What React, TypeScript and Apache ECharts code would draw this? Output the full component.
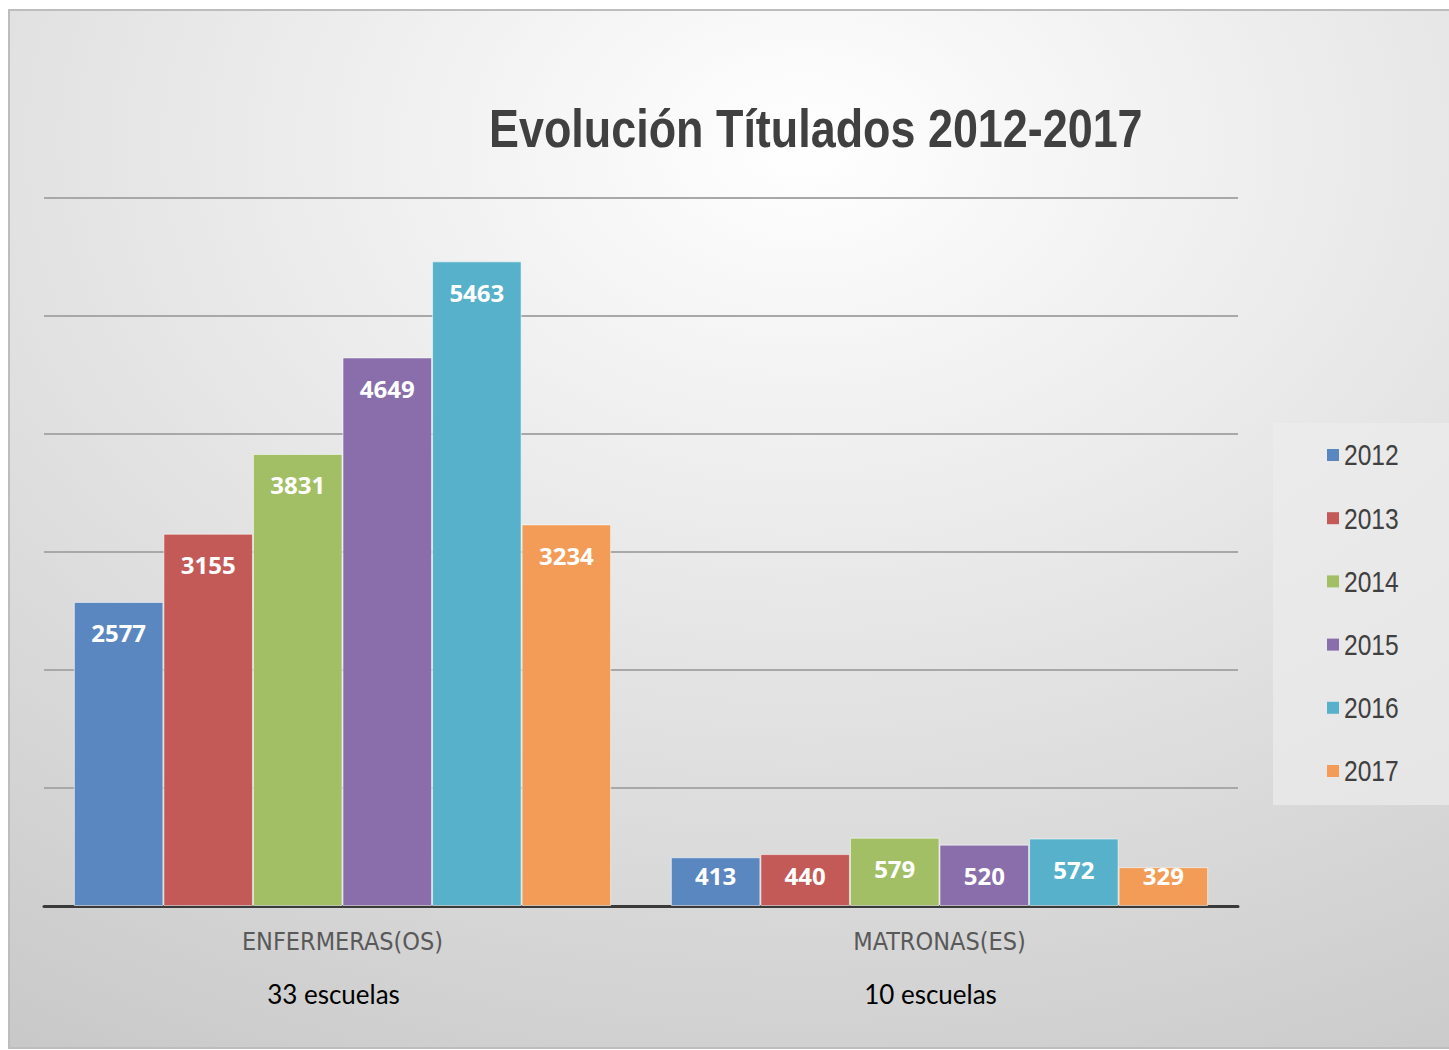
import React, { useEffect, useRef } from "react";
import * as echarts from "echarts";

const categories = ["ENFERMERAS(OS)", "MATRONAS(ES)"];
const schools = ["33 escuelas", "10 escuelas"];
const years = ["2012", "2013", "2014", "2015", "2016", "2017"];
const v2012 = [2577, 413];
const v2013 = [3155, 440];
const v2014 = [3831, 579];
const v2015 = [4649, 520];
const v2016 = [5463, 572];
const v2017 = [3234, 329];
const seriesValues = [v2012, v2013, v2014, v2015, v2016, v2017];
const colors = ["#5b87c1", "#c45a57", "#a2bf66", "#8a6eab", "#58b1ca", "#f39c57"];
const titleText = "Evolución Títulados 2012-2017";

const NARROW = "'DejaVu Sans Condensed', sans-serif";

export default function App() {
  const ref = useRef<HTMLDivElement>(null);
  useEffect(() => {
    if (!ref.current) return;
    const chart = echarts.init(ref.current, null, { renderer: "svg" });
    const series = years.map((y, i) => ({
      name: y,
      type: "bar",
      barGap: "0%",
      barCategoryGap: "10%",
      itemStyle: { color: colors[i], borderColor: "rgba(255,255,255,0.55)", borderWidth: 1 },
      data: seriesValues[i].map((v) => ({
        value: v,
        label:
          v < 540
            ? { position: "insideBottom", distance: 19 }
            : { position: "insideTop", distance: 19 },
      })),
      label: {
        show: true,
        color: "#ffffff",
        fontFamily: "'Open Sans', sans-serif",
        fontWeight: "bold",
        fontSize: 24,
      },
    }));

    const legendItems: any[] = [];
    years.forEach((y, i) => {
      const cy = 455 + i * 63.2;
      legendItems.push({
        type: "rect",
        shape: { x: 1327, y: cy - 6, width: 12, height: 12 },
        style: { fill: colors[i] },
      });
      legendItems.push({
        type: "text",
        x: 1344,
        y: cy,
        scaleX: 0.82,
        style: {
          text: y,
          font: "30px 'Liberation Sans', Arial, sans-serif",
          fill: "#404040",
          textVerticalAlign: "middle",
          textAlign: "left",
        },
      });
    });

    chart.setOption({
      animation: false,
      backgroundColor: "#ffffff",
      graphic: [
        {
          type: "rect",
          z: -10,
          silent: true,
          shape: { x: 9, y: 10, width: 1445, height: 1038 },
          style: {
            fill: new echarts.graphic.RadialGradient(0.55, 0.13, 1.15, [
              { offset: 0, color: "#ffffff" },
              { offset: 1, color: "#c2c2c2" },
            ]),
            stroke: "#bdbdbd",
            lineWidth: 2,
          },
        },
        {
          type: "text",
          x: 489,
          y: 129,
          scaleX: 0.847,
          style: {
            text: titleText,
            font: "bold 53px 'Liberation Sans', Arial, sans-serif",
            fill: "#404040",
            textVerticalAlign: "middle",
            textAlign: "left",
          },
        },
        {
          type: "rect",
          shape: { x: 1273, y: 423, width: 176, height: 382 },
          style: { fill: "rgba(236,236,236,0.7)" },
        },
        ...legendItems,
      ],
      grid: { left: 44, right: 211, top: 198, bottom: 144, containLabel: false },
      xAxis: {
        type: "category",
        data: categories,
        axisLine: { lineStyle: { color: "#3a3a3a", width: 3 } },
        axisTick: { show: false },
        axisLabel: {
          margin: 2,
          formatter: (val: string, idx: number) => `{a|${val}}\n{b|${schools[idx]}}`,
          rich: {
            a: { fontFamily: NARROW, fontSize: 25, color: "#595959", lineHeight: 66 },
            b: { fontFamily: "Lato, sans-serif", fontSize: 26, color: "#000000", lineHeight: 40, padding: [0, 18, 0, 0] },
          },
        },
      },
      yAxis: {
        type: "value",
        min: 0,
        max: 6000,
        interval: 1000,
        axisLabel: { show: false },
        axisLine: { show: false },
        axisTick: { show: false },
        splitLine: { lineStyle: { color: "#a8a8a8", width: 2 } },
      },
      series,
    });
    return () => chart.dispose();
  }, []);
  return (
    <div
      ref={ref}
      style={{ position: "fixed", left: 0, top: 0, width: 1449, height: 1050 }}
    />
  );
}
